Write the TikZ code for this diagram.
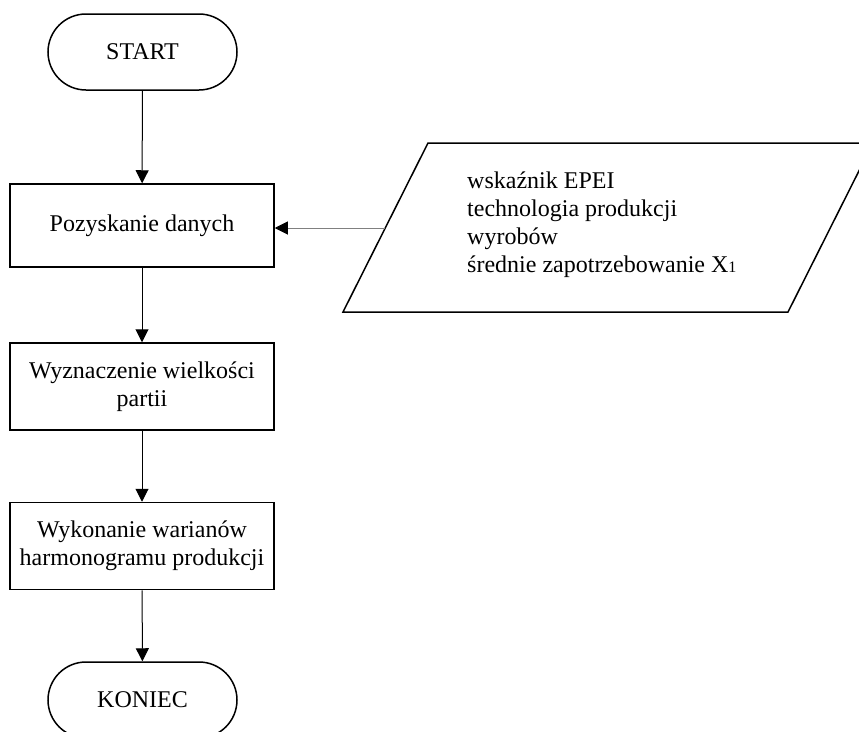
\documentclass[tikz,border=0pt]{standalone}
\usepackage{fontspec}
\setmainfont{Liberation Serif}
\usetikzlibrary{shapes.misc,arrows.meta}
\begin{document}
\begin{tikzpicture}[x=1pt,y=-1pt,
  every node/.style={font=\fontsize{24}{28}\selectfont},
  term/.style={rounded rectangle,draw,line width=1.5pt,minimum width=189pt,minimum height=76pt,inner sep=0pt},
  proc/.style={rectangle,draw,line width=1.5pt,minimum width=264pt,align=center,inner sep=0pt},
  flow/.style={line width=1pt,-{Triangle[length=13pt,width=13pt]}},
  side/.style={line width=1pt,draw=gray,-{Triangle[length=13pt,width=13pt,color=black]}}]
\clip (0,0) rectangle (859,731);
\node[term] (start) at (142.5,52) {START};
\node[proc,minimum height=83pt] (poz) at (142,225.5) {Pozyskanie danych};
\node[proc,minimum height=87pt] (wyz) at (142,386.5) {Wyznaczenie wielkości\\partii};
\node[proc,minimum height=87pt] (wyk) at (142,546) {Wykonanie warianów\\harmonogramu produkcji};
\node[term] (kon) at (142.5,700) {KONIEC};
\coordinate (p1) at (428,143);
\coordinate (p2) at (873,143);
\coordinate (p3) at (788,312);
\coordinate (p4) at (343,312);
\draw[line width=1.5pt] (p1) -- (p2) -- (p3) -- (p4) -- cycle;
\node[anchor=west,align=left,inner sep=0pt] (dane) at (467,225) {wskaźnik EPEI\\technologia produkcji\\wyrobów\\średnie zapotrzebowanie X{\fontsize{16}{16}\selectfont 1}};
\coordinate (pin) at (385,228);
\draw[flow] (start) -- (poz);
\draw[flow] (poz) -- (wyz);
\draw[flow] (wyz) -- (wyk);
\draw[flow] (wyk) -- (kon);
\draw[side] (pin) -- (poz.east |- pin);
\end{tikzpicture}
\end{document}
